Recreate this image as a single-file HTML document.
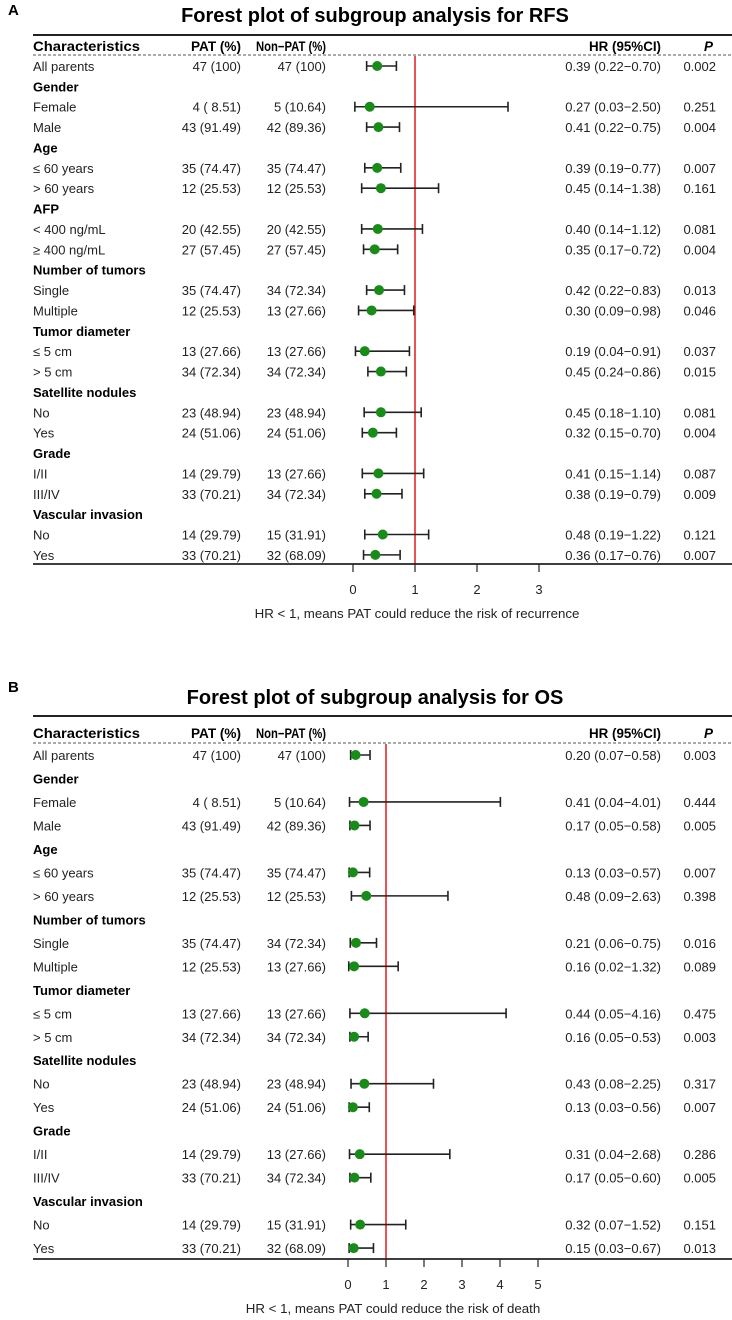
<!DOCTYPE html>
<html><head><meta charset="utf-8"><style>
body{margin:0;background:#fff;}
svg{display:block;font-family:"Liberation Sans",Arial,sans-serif;}
</style></head><body>
<svg id="chart" width="732" height="1320" viewBox="0 0 732 1320"></svg>
<script>
// Panel A data (RFS)
const labelsA=["All parents","Gender","Female","Male","Age","≤ 60 years","> 60 years","AFP","< 400 ng/mL","≥ 400 ng/mL","Number of tumors","Single","Multiple","Tumor diameter","≤ 5 cm","> 5 cm","Satellite nodules","No","Yes","Grade","I/II","III/IV","Vascular invasion","No","Yes"];
const patA=["47 (100)","","4 ( 8.51)","43 (91.49)","","35 (74.47)","12 (25.53)","","20 (42.55)","27 (57.45)","","35 (74.47)","12 (25.53)","","13 (27.66)","34 (72.34)","","23 (48.94)","24 (51.06)","","14 (29.79)","33 (70.21)","","14 (29.79)","33 (70.21)"];
const nonA=["47 (100)","","5 (10.64)","42 (89.36)","","35 (74.47)","12 (25.53)","","20 (42.55)","27 (57.45)","","34 (72.34)","13 (27.66)","","13 (27.66)","34 (72.34)","","23 (48.94)","24 (51.06)","","13 (27.66)","34 (72.34)","","15 (31.91)","32 (68.09)"];
const hrA=[0.39,null,0.27,0.41,null,0.39,0.45,null,0.40,0.35,null,0.42,0.30,null,0.19,0.45,null,0.45,0.32,null,0.41,0.38,null,0.48,0.36];
const loA=[0.22,null,0.03,0.22,null,0.19,0.14,null,0.14,0.17,null,0.22,0.09,null,0.04,0.24,null,0.18,0.15,null,0.15,0.19,null,0.19,0.17];
const hiA=[0.70,null,2.50,0.75,null,0.77,1.38,null,1.12,0.72,null,0.83,0.98,null,0.91,0.86,null,1.10,0.70,null,1.14,0.79,null,1.22,0.76];
const pA=["0.002","","0.251","0.004","","0.007","0.161","","0.081","0.004","","0.013","0.046","","0.037","0.015","","0.081","0.004","","0.087","0.009","","0.121","0.007"];
const ticksA=[0,1,2,3];
// Panel B data (OS)
const labelsB=["All parents","Gender","Female","Male","Age","≤ 60 years","> 60 years","Number of tumors","Single","Multiple","Tumor diameter","≤ 5 cm","> 5 cm","Satellite nodules","No","Yes","Grade","I/II","III/IV","Vascular invasion","No","Yes"];
const patB=["47 (100)","","4 ( 8.51)","43 (91.49)","","35 (74.47)","12 (25.53)","","35 (74.47)","12 (25.53)","","13 (27.66)","34 (72.34)","","23 (48.94)","24 (51.06)","","14 (29.79)","33 (70.21)","","14 (29.79)","33 (70.21)"];
const nonB=["47 (100)","","5 (10.64)","42 (89.36)","","35 (74.47)","12 (25.53)","","34 (72.34)","13 (27.66)","","13 (27.66)","34 (72.34)","","23 (48.94)","24 (51.06)","","13 (27.66)","34 (72.34)","","15 (31.91)","32 (68.09)"];
const hrB=[0.20,null,0.41,0.17,null,0.13,0.48,null,0.21,0.16,null,0.44,0.16,null,0.43,0.13,null,0.31,0.17,null,0.32,0.15];
const loB=[0.07,null,0.04,0.05,null,0.03,0.09,null,0.06,0.02,null,0.05,0.05,null,0.08,0.03,null,0.04,0.05,null,0.07,0.03];
const hiB=[0.58,null,4.01,0.58,null,0.57,2.63,null,0.75,1.32,null,4.16,0.53,null,2.25,0.56,null,2.68,0.60,null,1.52,0.67];
const pB=["0.003","","0.444","0.005","","0.007","0.398","","0.016","0.089","","0.475","0.003","","0.317","0.007","","0.286","0.005","","0.151","0.013"];
const ticksB=[0,1,2,3,4,5];

const NS="http://www.w3.org/2000/svg";
const svg=document.getElementById('chart');
function mk(tag,attrs,parent,txt){const e=document.createElementNS(NS,tag);for(const k in attrs)e.setAttribute(k,attrs[k]);if(txt!==undefined)e.textContent=txt;(parent||svg).appendChild(e);return e;}

function panel(cfg){
  const g=mk('g',{});
  
  
  const x=v=>cfg.x0+v*cfg.unit;
  const yRow=i=>cfg.row0+i*cfg.step;
  let t=mk('text',{x:8,y:cfg.letterY,'font-size':15,'font-weight':'bold'},g,cfg.letter);
  
  t=mk('text',{x:375,y:cfg.titleY,'font-size':20,'font-weight':'bold','text-anchor':'middle'},g,cfg.title);
  
  let l=mk('line',{x1:33,x2:732,y1:cfg.topY,y2:cfg.topY,stroke:'#222','stroke-width':2},g);
  
  l=mk('line',{x1:33,x2:732,y1:cfg.dashY,y2:cfg.dashY,stroke:'#555','stroke-width':1,'stroke-dasharray':'3,2'},g);
  
  const hdr=[["Characteristics",33,'start','normal',107],["PAT (%)",241,'end','normal',50],["Non−PAT (%)",326,'end','normal',70],["HR (95%CI)",661,'end','normal',72],["P",713,'end','italic',0]];
  hdr.forEach(h=>{const a={x:h[1],y:cfg.hdrY,'font-size':13.5,'font-weight':'bold','text-anchor':h[2],'font-style':h[3]};
    if(h[4]){a.textLength=h[4];a.lengthAdjust='spacingAndGlyphs';}
    const e=mk('text',a,g,h[0]);
    });
  l=mk('line',{x1:x(1),x2:x(1),y1:cfg.dashY+1,y2:cfg.axisY,stroke:'#e31a1c','stroke-width':1.5},g);
  
  cfg.labels.forEach((lab,i)=>{
    const y=yRow(i);const grp=cfg.hr[i]===null;
    let e=mk('text',{x:33,y:y+5,'font-size':13,'font-weight':grp?'bold':'normal',fill:grp?'#000':'#222'},g,lab);
    
    if(grp)return;
    e=mk('text',{x:241,y:y+5,'font-size':13,'text-anchor':'end',fill:'#222'},g,cfg.pat[i]);
    
    e=mk('text',{x:326,y:y+5,'font-size':13,'text-anchor':'end',fill:'#222'},g,cfg.non[i]);
    
    const hrTxt=cfg.hr[i].toFixed(2)+" ("+cfg.lo[i].toFixed(2)+"−"+cfg.hi[i].toFixed(2)+")";
    e=mk('text',{x:661,y:y+5,'font-size':13,'text-anchor':'end',fill:'#222'},g,hrTxt);
    
    e=mk('text',{x:716,y:y+5,'font-size':13,'text-anchor':'end',fill:'#222'},g,cfg.p[i]);
    
    const ci=mk('g',{stroke:'#222','stroke-width':1.6},g);
    
    mk('line',{x1:x(cfg.lo[i]),x2:x(cfg.hi[i]),y1:y,y2:y},ci);
    mk('line',{x1:x(cfg.lo[i]),x2:x(cfg.lo[i]),y1:y-5,y2:y+5},ci);
    mk('line',{x1:x(cfg.hi[i]),x2:x(cfg.hi[i]),y1:y-5,y2:y+5},ci);
    const c=mk('circle',{cx:x(cfg.hr[i]),cy:y,r:5,fill:'#1a8a1a'},g);
    
  });
  l=mk('line',{x1:33,x2:732,y1:cfg.axisY,y2:cfg.axisY,stroke:'#222','stroke-width':1.8},g);
  
  cfg.ticks.forEach(v=>{
    const tk=mk('line',{x1:x(v),x2:x(v),y1:cfg.axisY,y2:cfg.axisY+8,stroke:'#222','stroke-width':1.2},g);
    
    const tl=mk('text',{x:x(v),y:cfg.axisY+30,'font-size':13,'text-anchor':'middle',fill:'#222'},g,String(v));
    
  });
  t=mk('text',{x:cfg.noteX,y:cfg.axisY+54,'font-size':13.3,'text-anchor':'middle',fill:'#222'},g,cfg.note);
  
}
panel({name:'panel-a-rfs',letter:'A',letterY:15,title:'Forest plot of subgroup analysis for RFS',titleY:22,topY:35,hdrY:51,dashY:55,row0:66,step:20.37,axisY:564,x0:353,unit:62,
  labels:labelsA,pat:patA,non:nonA,hr:hrA,lo:loA,hi:hiA,p:pA,ticks:ticksA,noteX:417,note:'HR < 1, means PAT could reduce the risk of recurrence'});
panel({name:'panel-b-os',letter:'B',letterY:692,title:'Forest plot of subgroup analysis for OS',titleY:704,topY:716,hdrY:738,dashY:743,row0:755,step:23.48,axisY:1259,x0:348,unit:38,
  labels:labelsB,pat:patB,non:nonB,hr:hrB,lo:loB,hi:hiB,p:pB,ticks:ticksB,noteX:393,note:'HR < 1, means PAT could reduce the risk of death'});
</script>
</body></html>
